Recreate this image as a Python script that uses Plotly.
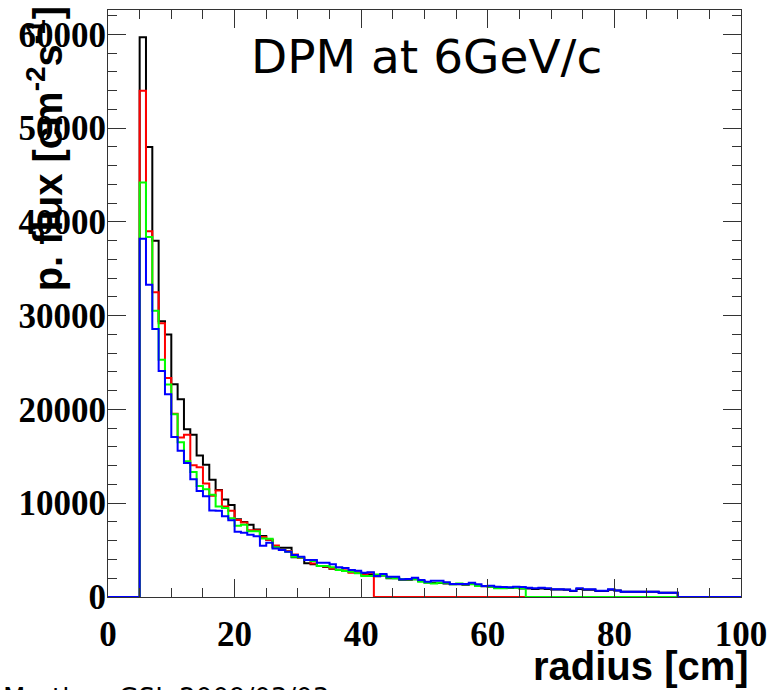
import plotly.graph_objects as go

# Histogram: 1 cm bins from 0 to 100 cm; values listed from bin starting at 5 cm
bin_edges = list(range(0, 101))
first_filled_bin = 5

black_vals = [59700, 48000, 38000, 29400, 28000, 22700, 21100, 17900, 17300, 15100,
              14100, 12500, 11400, 10400, 9800, 8300, 8000, 7700, 7200, 6500,
              6100, 5300, 5250, 5250, 4250, 4200, 3600, 3500, 3300, 3200,
              3000, 2900, 2800, 2700, 2600, 2500, 2400, 2200, 2300, 2000,
              2000, 1850, 1850, 1900, 1700, 1550, 1500, 1500, 1450, 1350,
              1350, 1300, 1400, 1200, 1150, 1100, 1000, 950, 950, 1000,
              900, 900, 850, 900, 850, 800, 800, 780, 650, 850,
              780, 780, 650, 650, 780, 680, 550, 550, 550, 550,
              550, 550, 440, 440, 440]
red_vals = [54000, 39000, 32500, 29200, 23350, 19540, 17000, 17300, 14040, 13850,
            12100, 10800, 11350, 9650, 9200, 8200, 7950, 7130, 7130, 6400,
            6100, 5500, 5000, 4900, 4540, 4180, 3940, 3580, 3300, 3250,
            3050, 2870, 2820, 2590, 2590, 2340, 2590]
green_vals = [44200, 38400, 30540, 25300, 22660, 19500, 16500, 14480, 13330, 11830,
              11500, 10900, 9650, 9500, 8400, 7600, 7700, 7000, 7000, 6240,
              6200, 5300, 5000, 4820, 4290, 4200, 3940, 3850, 3300, 3300,
              3160, 2870, 2770, 2700, 2520, 2230, 2230, 2410, 2300, 2060,
              2000, 1880, 1880, 1880, 1630, 1520, 1450, 1520, 1520, 1350,
              1450, 1350, 1350, 1170, 1170, 1100, 920, 920, 990, 990,
              920]
blue_vals = [38200, 33300, 28590, 24100, 21630, 17060, 15600, 14290, 12550, 11300,
             10740, 9220, 9200, 8620, 8190, 6950, 6840, 6630, 6490, 5460,
             5780, 5180, 5000, 4820, 4470, 4290, 3940, 3940, 3650, 3650,
             3480, 3160, 3100, 2870, 2800, 2590, 2650, 2230, 2450, 2160,
             2160, 1880, 1920, 2060, 1810, 1630, 1740, 1740, 1560, 1380,
             1380, 1380, 1520, 1350, 1170, 1200, 1100, 1060, 1030, 1100,
             1060, 990, 920, 990, 920, 820, 820, 800, 670, 920,
             820, 820, 670, 670, 820, 700, 570, 570, 570, 570,
             570, 560, 460, 460, 460]

series = [("black", black_vals, "#000000"),
          ("red", red_vals, "#ff0000"),
          ("green", green_vals, "#00ff00"),
          ("blue", blue_vals, "#0000ff")]

x_ticks = [0, 20, 40, 60, 80, 100]
y_ticks = [0, 10000, 20000, 30000, 40000, 50000, 60000]

n_bins = len(bin_edges) - 1


def full_bins(vals):
    out = [0] * n_bins
    for i, v in enumerate(vals):
        out[first_filled_bin + i] = v
    return out


fig = go.Figure()
for name, vals, col in series:
    yb = full_bins(vals)
    fig.add_trace(go.Scatter(
        x=bin_edges, y=yb + [yb[-1]], mode="lines", name=name,
        line=dict(color=col, width=2, shape="hv"), showlegend=False,
        hoverinfo="skip"))

tick_font = dict(family="Liberation Serif", size=35, color="black", weight="bold")

fig.update_xaxes(
    range=[0, 100], tickvals=x_ticks, ticktext=[str(v) for v in x_ticks],
    ticks="inside", ticklen=18, tickwidth=1, tickcolor="#333",
    showline=True, linecolor="#333", linewidth=1, mirror="ticks",
    showgrid=False, zeroline=False, tickfont=tick_font, ticklabelstandoff=6,
    minor=dict(dtick=5, tick0=0, ticks="inside", ticklen=9, tickcolor="#333", showgrid=False))
fig.update_yaxes(
    range=[0, 62600], tickvals=y_ticks, ticktext=[str(v) for v in y_ticks],
    ticks="inside", ticklen=18, tickwidth=1, tickcolor="#333",
    showline=True, linecolor="#333", linewidth=1, mirror="ticks",
    showgrid=False, zeroline=False, tickfont=tick_font, ticklabelstandoff=-6,
    minor=dict(dtick=2000, tick0=0, ticks="inside", ticklen=9, tickcolor="#333", showgrid=False))

pw, ph = 639.0, 588.0
fig.update_layout(
    width=776, height=690,
    margin=dict(l=108, r=29, t=9, b=93),
    paper_bgcolor="white", plot_bgcolor="white",
    annotations=[
        dict(text="DPM at 6GeV/c", xref="paper", yref="paper",
             x=(430 - 108) / pw, y=(597 - 56) / ph, xanchor="center", yanchor="middle",
             showarrow=False, font=dict(family="DejaVu Sans", size=47, color="black")),
        dict(text="p. flux [cm<sup>-2</sup>s<sup>-1</sup>]", xref="paper", yref="paper",
             x=(44 - 108) / pw, y=(597 - 148) / ph, xanchor="center", yanchor="middle",
             textangle=-90, showarrow=False,
             font=dict(family="Liberation Sans", size=40, color="black", weight="bold")),
        dict(text="radius [cm]", xref="paper", yref="paper",
             x=(757 - 108) / pw, y=(597 - 666) / ph, xanchor="right", yanchor="middle",
             showarrow=False,
             font=dict(family="Liberation Sans", size=40, color="black", weight="bold")),
        dict(text="Martine, GSI, 2009/03/03", xref="paper", yref="paper",
             x=(0 - 108) / pw, y=(597 - 681) / ph, xanchor="left", yanchor="top",
             showarrow=False,
             font=dict(family="DejaVu Sans", size=26, color="black")),
    ],
)

fig.write_html("out.html", config={"displayModeBar": False},
               post_script="document.body.style.margin='0px';")
